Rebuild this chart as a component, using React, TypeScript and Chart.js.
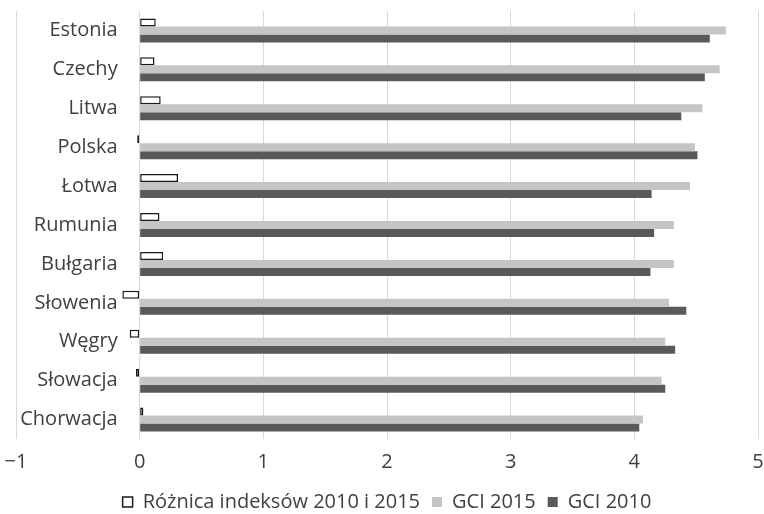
import React, { useEffect, useRef } from 'react';
import { Chart, registerables } from 'chart.js';

Chart.register(...registerables);

const categories = ['Estonia', 'Czechy', 'Litwa', 'Polska', 'Łotwa', 'Rumunia', 'Bułgaria', 'Słowenia', 'Węgry', 'Słowacja', 'Chorwacja'];
const roznica = [0.13, 0.12, 0.17, -0.02, 0.31, 0.16, 0.19, -0.14, -0.08, -0.03, 0.03];
const gci2015 = [4.74, 4.69, 4.55, 4.49, 4.45, 4.32, 4.32, 4.28, 4.25, 4.22, 4.07];
const gci2010 = [4.61, 4.57, 4.38, 4.51, 4.14, 4.16, 4.13, 4.42, 4.33, 4.25, 4.04];
const seriesLabels = ['Różnica indeksów 2010 i 2015', 'GCI 2015', 'GCI 2010'];
const xMin = -1;
const xMax = 5;
const xStep = 1;

const textColor = '#404040';
const font = { family: '"Open Sans", sans-serif', size: 20 };

export default function App() {
  const ref = useRef<HTMLCanvasElement>(null);

  useEffect(() => {
    if (!ref.current) return;
    const chart = new Chart(ref.current, {
      type: 'bar',
      data: {
        labels: categories,
        datasets: [
          {
            label: seriesLabels[0],
            data: roznica,
            backgroundColor: '#ffffff',
            borderColor: '#1a1a1a',
            borderWidth: 1.5,
            borderSkipped: false,
          },
          {
            label: seriesLabels[1],
            data: gci2015,
            backgroundColor: '#c4c5c7',
            borderWidth: 0,
          },
          {
            label: seriesLabels[2],
            data: gci2010,
            backgroundColor: '#58595b',
            borderWidth: 0,
          },
        ],
      },
      options: {
        indexAxis: 'y',
        responsive: false,
        animation: false,
        datasets: {
          bar: { categoryPercentage: 0.617, barPercentage: 1 },
        },
        layout: { padding: { left: 16, right: 6, top: 0, bottom: 0 } },
        scales: {
          x: {
            type: 'linear',
            min: xMin,
            max: xMax,
            ticks: {
              stepSize: xStep,
              padding: 0,
              color: textColor,
              font,
              callback: (v: any) => (Number(v) < 0 ? '\u2212' + Math.abs(Number(v)) : String(v)),
            },
            grid: { color: '#d9d9d9', lineWidth: 1, drawTicks: true, tickLength: 11.5, tickColor: 'rgba(0,0,0,0)' },
            border: { display: false },
          },
          y: {
            position: { x: -0.178 } as any,
            grid: { display: false, drawTicks: false },
            border: { display: false },
            ticks: { padding: -1, color: textColor, font },
          },
        },
        plugins: {
          legend: {
            position: 'bottom',
            labels: {
              boxWidth: 10,
              boxHeight: 10,
              padding: 12,
              color: textColor,
              font,
            },
            title: {
              display: true,
              text: '',
              padding: 0,
              font: { size: 5.5, lineHeight: 1 },
            },
          },
          tooltip: { enabled: false },
        },
      },
    });
    return () => chart.destroy();
  }, []);

  return (
    <div
      style={{
        position: 'absolute',
        left: 0,
        top: 0,
        width: 764,
        height: 514,
        overflow: 'hidden',
        background: '#ffffff',
      }}
    >
      <canvas ref={ref} width={764} height={522} style={{ display: 'block' }} />
    </div>
  );
}
